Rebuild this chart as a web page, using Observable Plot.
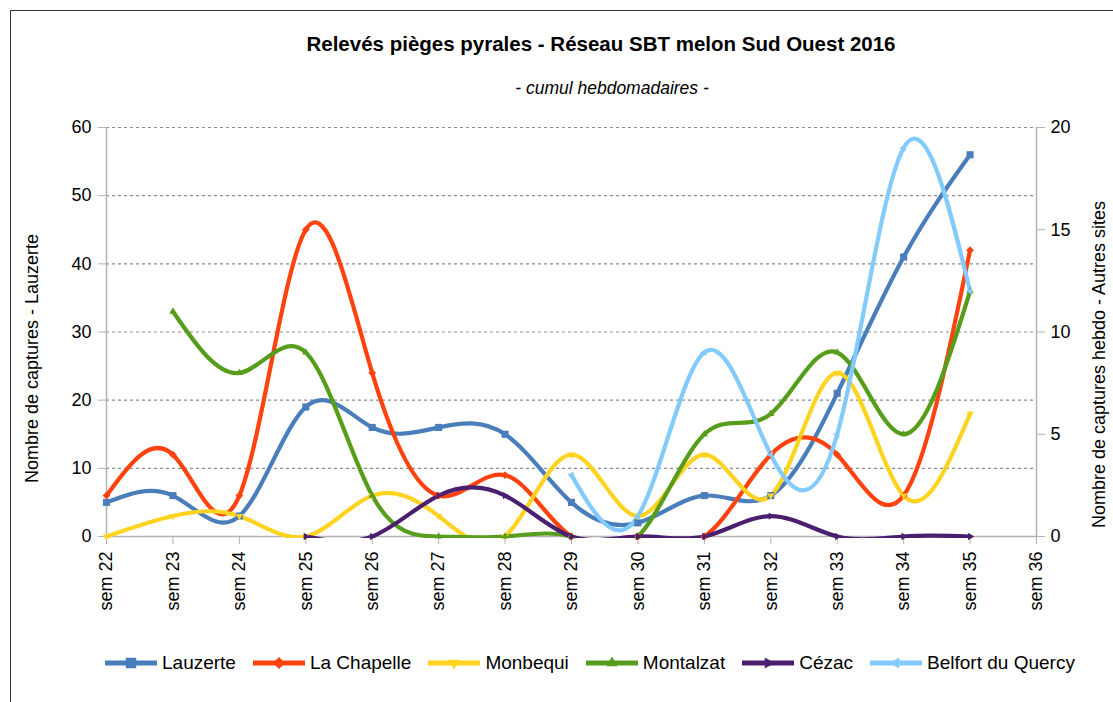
<!DOCTYPE html>
<html>
<head>
<meta charset="utf-8">
<script src="https://cdn.jsdelivr.net/npm/d3@7"></script>
<script src="https://cdn.jsdelivr.net/npm/@observablehq/plot@0.6"></script>
<style>
  html, body { margin: 0; padding: 0; background: #fff; }
  body { width: 1113px; height: 702px; overflow: hidden; position: relative; font-family: "Liberation Sans", Arial, sans-serif; }
  #frame { position: absolute; left: 10px; top: 10px; width: 1120px; height: 720px; border-top: 1px solid #333; border-left: 1px solid #333; }
  #title { position: absolute; top: 32px; left: 0; width: 1202px; text-align: center; font-weight: bold; font-size: 20.5px; color: #000; }
  #subtitle { position: absolute; top: 78px; left: 0; width: 1224px; text-align: center; font-style: italic; font-size: 17.5px; color: #000; }
  #chart { position: absolute; left: 0; top: 0; }
  #legend { position: absolute; top: 652px; left: 105px; display: flex; align-items: center; gap: 17px; font-size: 19px; color: #000; }
  .item { display: flex; align-items: center; gap: 5px; white-space: nowrap; }
  .ylab { position: absolute; font-size: 18px; color: #000; white-space: nowrap; transform-origin: center center; }
</style>
</head>
<body>
<div id="frame"></div>
<div id="title">Relevés pièges pyrales - Réseau SBT melon Sud Ouest 2016</div>
<div id="subtitle">- cumul hebdomadaires -</div>
<div id="chart"></div>
<div class="ylab" id="ylabL">Nombre de captures - Lauzerte</div>
<div class="ylab" id="ylabR">Nombre de captures hebdo - Autres sites</div>
<div id="legend"></div>
<script>
// ---- data ----
const weeks = [22, 23, 24, 25, 26, 27, 28, 29, 30, 31, 32, 33, 34, 35];
const xTicks = [22, 23, 24, 25, 26, 27, 28, 29, 30, 31, 32, 33, 34, 35, 36];
const leftTicks = [0, 10, 20, 30, 40, 50, 60];
const rightTicks = [0, 5, 10, 15, 20];

const lauzerte   = [5, 6, 3, 19, 16, 16, 15, 5, 2, 6, 6, 21, 41, 56];          // left axis
const laChapelle = [2, 4, 2, 15, 8, 2, 3, 0, 0, 0, 4, 4, 2, 14];               // right axis
const monbequi   = [0, 1, 1, 0, 2, 1, 0, 4, 1, 4, 2, 8, 2, 6];
const montalzat  = [null, 11, 8, 9, 2, 0, 0, 0, 0, 5, 6, 9, 5, 12];
const cezac      = [null, null, null, 0, 0, 2, 2, 0, 0, 0, 1, 0, 0, 0];
const belfort    = [null, null, null, null, null, null, null, 3, 1, 9, 4, 5, 19, 12];

const seriesNames = ["Lauzerte", "La Chapelle", "Monbequi", "Montalzat", "Cézac", "Belfort du Quercy"];
const seriesValues = [lauzerte, laChapelle, monbequi, montalzat, cezac, belfort];
const seriesAxis = ["left", "right", "right", "right", "right", "right"];
const colors = ["#4a7ebb", "#ff420e", "#ffd320", "#579d1c", "#4b1f6f", "#83caff"];
const symbols = ["square", "diamond2", "triangle2", "triangle2", "triangle2", "triangle2"];
const rotations = [0, 0, 180, 0, 90, -90];
const dotR = [4, 3.5, 3.5, 3.5, 3.5, 3.5];

// ratio of left axis (0-60) to right axis (0-20)
const ratio = 60 / 20;

const marks = [];
marks.push(Plot.gridY(leftTicks.filter(d => d > 0), {stroke: "#8c8c8c", strokeOpacity: 1, strokeDasharray: "3,3", strokeWidth: 1.2}));
marks.push(Plot.ruleX([22, 36], {y1: 0, y2: 60, stroke: "#b3b3b3", strokeWidth: 1.5}));
marks.push(Plot.ruleY([0], {stroke: "#b3b3b3", strokeWidth: 1.5}));
marks.push(Plot.axisY(leftTicks, {anchor: "left", tickSize: 8, tickPadding: 7, fontSize: 18, label: null, stroke: "#b3b3b3", fill: "#000"}));
marks.push(Plot.axisY(rightTicks.map(d => d * ratio), {anchor: "right", tickSize: 8, tickPadding: 6, fontSize: 18, label: null, tickFormat: d => d / ratio, stroke: "#b3b3b3", fill: "#000"}));
marks.push(Plot.axisX(xTicks, {anchor: "bottom", tickSize: 8, tickPadding: 7, fontSize: 18, tickRotate: -90, label: null, tickFormat: d => "sem " + d, stroke: "#b3b3b3", fill: "#000"}));

seriesNames.forEach((name, i) => {
  const k = seriesAxis[i] === "left" ? 1 : ratio;
  const rows = weeks.map((w, j) => ({week: w, value: seriesValues[i][j], y: seriesValues[i][j] == null ? NaN : seriesValues[i][j] * k}));
  marks.push(Plot.line(rows, {x: "week", y: "y", stroke: colors[i], strokeWidth: 4.2, curve: "natural", clip: true}));
});
seriesNames.forEach((name, i) => {
  const k = seriesAxis[i] === "left" ? 1 : ratio;
  const rows = weeks.map((w, j) => ({week: w, value: seriesValues[i][j]})).filter(d => d.value != null);
  marks.push(Plot.dot(rows, {x: "week", y: d => d.value * k, symbol: symbols[i], rotate: rotations[i], r: dotR[i], fill: colors[i], stroke: "none"}));
});

const chart = Plot.plot({
  width: 1113,
  height: 640,
  marginLeft: 106,
  marginRight: 77,
  marginTop: 127,
  marginBottom: 104,
  x: {domain: [22, 36]},
  y: {domain: [0, 60]},
  style: {fontFamily: "Liberation Sans, Arial, sans-serif", fontSize: "18px", background: "transparent", overflow: "visible"},
  marks
});
// let lines lying on the zero axis keep their full thickness
chart.querySelectorAll("clipPath rect").forEach(r => {
  const y = +r.getAttribute("y"), h = +r.getAttribute("height");
  r.setAttribute("y", y - 3);
  r.setAttribute("height", h + 5);
});
document.getElementById("chart").appendChild(chart);

// axis titles
const yl = document.getElementById("ylabL");
yl.style.left = (32 - yl.offsetWidth / 2) + "px";
yl.style.top = (358 - yl.offsetHeight / 2) + "px";
yl.style.transform = "rotate(-90deg)";
const yr = document.getElementById("ylabR");
yr.style.left = (1099 - yr.offsetWidth / 2) + "px";
yr.style.top = (364 - yr.offsetHeight / 2) + "px";
yr.style.transform = "rotate(-90deg)";

// legend
const legend = d3.select("#legend");
seriesNames.forEach((name, i) => {
  const item = legend.append("div").attr("class", "item");
  const svg = item.append("svg").attr("width", 52).attr("height", 20);
  svg.append("line").attr("x1", 0).attr("x2", 52).attr("y1", 10).attr("y2", 10).attr("stroke", colors[i]).attr("stroke-width", 5);
  const sym = {square: d3.symbolSquare, diamond2: d3.symbolDiamond2, triangle2: d3.symbolTriangle2}[symbols[i]];
  svg.append("path").attr("d", d3.symbol(sym, i === 0 ? 110 : 90)()).attr("fill", colors[i])
    .attr("transform", `translate(26,10) rotate(${rotations[i]})`);
  item.append("span").text(name);
});
</script>
</body>
</html>
